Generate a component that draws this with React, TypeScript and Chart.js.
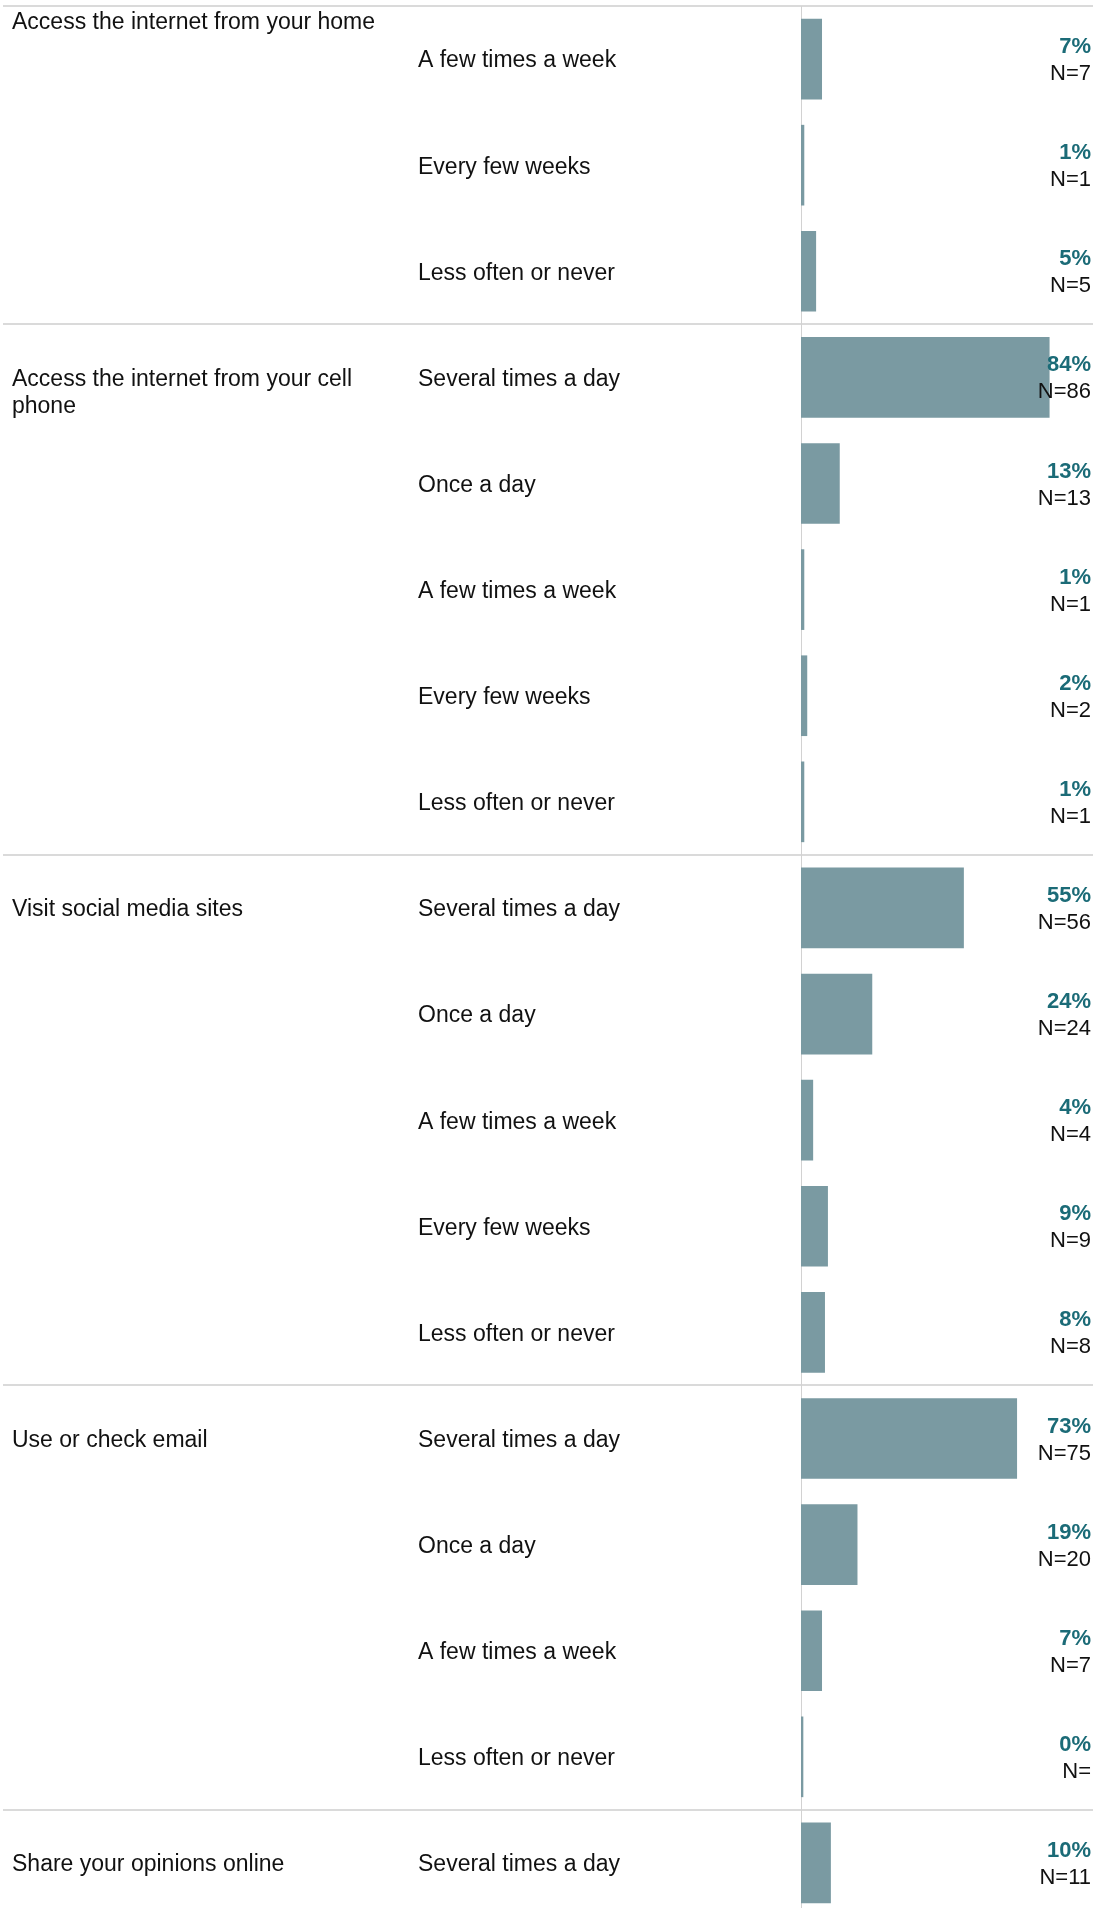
import React, { useEffect, useRef } from "react";
import { Chart, registerables } from "chart.js";

Chart.register(...registerables);

// ---- data ----
const groupLabels: string[][] = [
  ["Access the internet from your home"],
  ["Access the internet from your cell", "phone"],
  ["Visit social media sites"],
  ["Use or check email"],
  ["Share your opinions online"],
];
const groupSizes: number[] = [3, 5, 5, 4, 1];
const frequencies: string[] = [
  "A few times a week",
  "Every few weeks",
  "Less often or never",
  "Several times a day",
  "Once a day",
  "A few times a week",
  "Every few weeks",
  "Less often or never",
  "Several times a day",
  "Once a day",
  "A few times a week",
  "Every few weeks",
  "Less often or never",
  "Several times a day",
  "Once a day",
  "A few times a week",
  "Less often or never",
  "Several times a day",
];
const percents: number[] = [7, 1, 5, 84, 13, 1, 2, 1, 55, 24, 4, 9, 8, 73, 19, 7, 0, 10];
const counts: string[] = ["7", "1", "5", "86", "13", "1", "2", "1", "56", "24", "4", "9", "8", "75", "20", "7", "", "11"];

const FONT = '"Liberation Sans", Arial, Helvetica, sans-serif';
const BAR_COLOR = "#7a9aa2";
const PCT_COLOR = "#1b6b77";
const TEXT_COLOR = "#111111";
const LINE_COLOR = "#dadada";

const W = 1098;
const H = 1916;

const labelPlugin = {
  id: "tableLabels",
  beforeDatasetsDraw(chart: any) {
    const ctx = chart.ctx;
    const ys = chart.scales.y;
    const xs = chart.scales.x;
    const band = ys.getPixelForValue(1) - ys.getPixelForValue(0);
    ctx.save();
    ctx.strokeStyle = LINE_COLOR;
    ctx.lineWidth = 2;
    let idx = 0;
    const bounds: number[] = [];
    for (let g = 0; g < groupSizes.length; g++) {
      bounds.push(ys.getPixelForValue(idx) - band / 2);
      idx += groupSizes[g];
    }
    bounds.forEach((yy) => {
      const py = Math.round(yy);
      ctx.beginPath();
      ctx.moveTo(3, py);
      ctx.lineTo(chart.width, py);
      ctx.stroke();
    });
    const x0 = Math.round(xs.getPixelForValue(0)) + 0.5;
    ctx.strokeStyle = "#d2d2d2";
    ctx.lineWidth = 1;
    ctx.beginPath();
    ctx.moveTo(x0, ys.top);
    ctx.lineTo(x0, chart.height);
    ctx.stroke();
    ctx.restore();
  },
  afterDatasetsDraw(chart: any) {
    const ctx = chart.ctx;
    const ys = chart.scales.y;
    ctx.save();
    ctx.textBaseline = "middle";
    let idx = 0;
    for (let g = 0; g < groupLabels.length; g++) {
      const yc = (g === 0 ? ys.top + 15 : ys.getPixelForValue(idx)) + 2;
      ctx.font = `23px ${FONT}`;
      ctx.fillStyle = TEXT_COLOR;
      ctx.textAlign = "left";
      groupLabels[g].forEach((line, li) => {
        ctx.fillText(line, 12, yc + li * 27);
      });
      idx += groupSizes[g];
    }
    frequencies.forEach((f, i) => {
      const yc = ys.getPixelForValue(i) + 2;
      ctx.font = `23px ${FONT}`;
      ctx.fillStyle = TEXT_COLOR;
      ctx.textAlign = "left";
      ctx.fillText(f, 418, yc);
      ctx.textAlign = "right";
      ctx.font = `bold 22px ${FONT}`;
      ctx.fillStyle = PCT_COLOR;
      ctx.fillText(`${percents[i]}%`, 1091, yc - 14);
      ctx.font = `22px ${FONT}`;
      ctx.fillStyle = TEXT_COLOR;
      ctx.fillText(`N=${counts[i]}`, 1091, yc + 13);
    });
    ctx.restore();
  },
};

export default function App() {
  const ref = useRef<HTMLCanvasElement | null>(null);
  useEffect(() => {
    if (!ref.current) return;
    const chart = new Chart(ref.current, {
      type: "bar",
      data: {
        labels: frequencies,
        datasets: [
          {
            data: percents,
            backgroundColor: BAR_COLOR,
            borderWidth: 0,
            barThickness: 80,
            minBarLength: 2,
          },
        ],
      },
      options: {
        indexAxis: "y",
        responsive: false,
        animation: false,
        devicePixelRatio: 1,
        layout: { padding: { left: 801, top: 6, right: 0, bottom: 0 } },
        plugins: { legend: { display: false }, tooltip: { enabled: false } },
        scales: {
          x: { display: false, min: 0, max: 100.5 },
          y: { display: false },
        },
      },
      plugins: [labelPlugin],
    });
    return () => chart.destroy();
  }, []);
  return (
    <div
      style={{
        position: "fixed",
        left: 0,
        top: 0,
        width: 1093,
        height: 1908,
        overflow: "hidden",
        background: "#ffffff",
      }}
    >
      <canvas ref={ref} width={W} height={H} style={{ display: "block", width: W, height: H }} />
    </div>
  );
}
